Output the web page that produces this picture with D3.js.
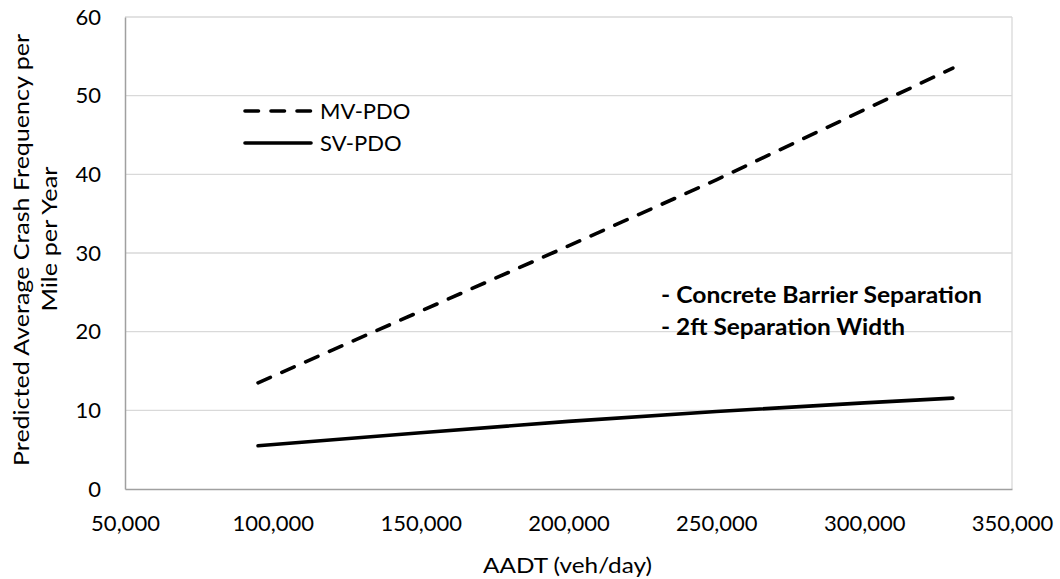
<!DOCTYPE html>
<html>
<head>
<meta charset="utf-8">
<script src="https://cdn.jsdelivr.net/npm/d3@7"></script>
<style>
  html, body { margin: 0; padding: 0; background: #fff; }
  svg { display: block; }
  text { font-family: Lato, "Open Sans", sans-serif; fill: #000; }
</style>
</head>
<body>
<svg id="chart" width="1060" height="579"></svg>
<script>
// ---- data ----
const aadt = [95000, 150000, 200000, 250000, 300000, 330000];
const mvPDO = [13.5, 22.6, 30.9, 39.3, 48.2, 53.5];
const svPDO = [5.5, 7.15, 8.6, 9.85, 10.95, 11.55];
const seriesNames = ["MV-PDO", "SV-PDO"];
const xTicks = [50000, 100000, 150000, 200000, 250000, 300000, 350000];
const yTicks = [0, 10, 20, 30, 40, 50, 60];
const yTitleLines = ["Predicted Average Crash Frequency per", "Mile per Year"];
const xTitle = "AADT (veh/day)";
const notes = ["- Concrete Barrier Separation", "- 2ft Separation Width"];

// ---- layout ----
const svg = d3.select("#chart");
const L = 125, R = 1012, T = 17, B = 489;
const x = d3.scaleLinear().domain([50000, 350000]).range([L, R]);
const y = d3.scaleLinear().domain([0, 60]).range([B, T]);

// gridlines
svg.append("g").selectAll("line").data(yTicks.filter(d => d > 0)).join("line")
  .attr("x1", L).attr("x2", R)
  .attr("y1", d => y(d)).attr("y2", d => y(d))
  .attr("stroke", "#d9d9d9").attr("stroke-width", 1.3);
// right border
svg.append("line").attr("x1", R).attr("x2", R).attr("y1", T).attr("y2", B)
  .attr("stroke", "#d9d9d9").attr("stroke-width", 1.3);

// axes
const fmt = d3.format(",");
const xAxis = svg.append("g").attr("transform", `translate(0,${B})`)
  .call(d3.axisBottom(x).tickValues(xTicks).tickFormat(fmt).tickSize(0).tickPadding(26));
xAxis.select(".domain").attr("stroke", "#a0a0a0").attr("stroke-width", 1.5);
xAxis.selectAll("text").style("font-size", "22px").style("font-family", "Lato, 'Open Sans', sans-serif").attr("fill", "#000");

const yAxis = svg.append("g").attr("transform", `translate(${L},0)`)
  .call(d3.axisLeft(y).tickValues(yTicks).tickSize(0).tickPadding(24));
yAxis.select(".domain").attr("stroke", "#a0a0a0").attr("stroke-width", 1.5);
yAxis.selectAll("text").style("font-size", "22px").style("font-family", "Lato, 'Open Sans', sans-serif").attr("fill", "#000");

// lines
const pts = (vals) => aadt.map((a, i) => [a, vals[i]]);
const line = d3.line().x(d => x(d[0])).y(d => y(d[1]));
svg.append("path").datum(pts(svPDO)).attr("d", line)
  .attr("fill", "none").attr("stroke", "#000").attr("stroke-width", 3.6)
  .attr("stroke-linecap", "round").attr("stroke-linejoin", "round");
svg.append("path").datum(pts(mvPDO)).attr("d", line)
  .attr("fill", "none").attr("stroke", "#000").attr("stroke-width", 3.6)
  .attr("stroke-linecap", "round").attr("stroke-dasharray", "13.5,12.5");

// legend
const lg = svg.append("g");
seriesNames.forEach((name, i) => {
  const ly = 111 + i * 32;
  lg.append("line").attr("x1", 245).attr("x2", 311).attr("y1", ly).attr("y2", ly)
    .attr("stroke", "#000").attr("stroke-width", 3.6).attr("stroke-linecap", "round")
    .attr("stroke-dasharray", i === 0 ? "13.5,12.5" : null);
  lg.append("text").attr("x", 320).attr("y", ly).attr("dy", "0.35em")
    .style("font-size", "22px").text(name);
});

// notes
const noteLens = [321, 244];
notes.forEach((t, i) => {
  svg.append("text").attr("x", 661).attr("y", 303 + i * 32)
    .attr("textLength", noteLens[i]).attr("lengthAdjust", "spacingAndGlyphs")
    .style("font-size", "22px").style("font-weight", "bold").text(t);
});

// axis titles
svg.append("text").attr("x", 567.5).attr("y", 573).attr("text-anchor", "middle")
  .attr("textLength", 169).attr("lengthAdjust", "spacingAndGlyphs")
  .style("font-size", "22px").text(xTitle);
const yTitlePos = [[29, 250, 432], [57, 239, 145]];
yTitleLines.forEach((t, i) => {
  const [tx, ty, len] = yTitlePos[i];
  svg.append("text")
    .attr("transform", `translate(${tx},${ty}) rotate(-90)`)
    .attr("text-anchor", "middle")
    .attr("textLength", len).attr("lengthAdjust", "spacingAndGlyphs")
    .style("font-size", "22px").text(t);
});
</script>
</body>
</html>
